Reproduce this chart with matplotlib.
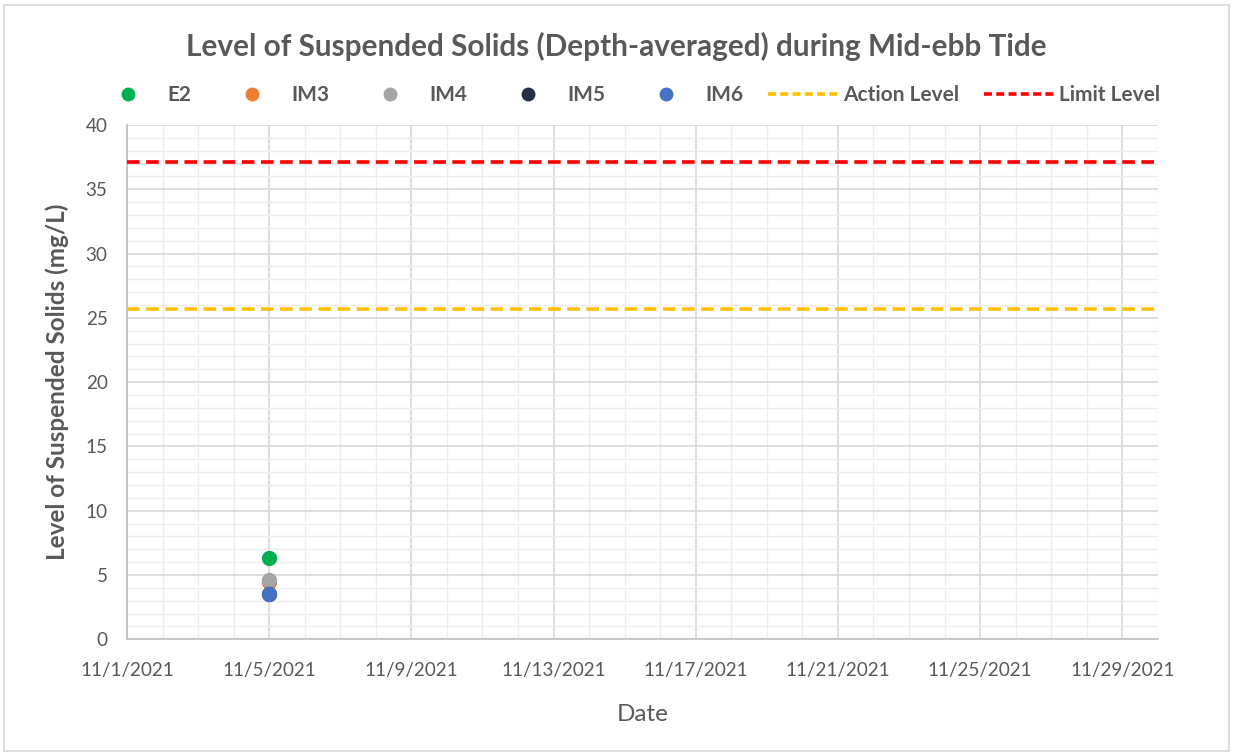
import matplotlib
matplotlib.use("Agg")
import matplotlib.pyplot as plt
import matplotlib.dates as mdates
from matplotlib.lines import Line2D
from matplotlib.patches import Rectangle
import datetime as dt

plt.rcParams['font.family'] = ['Lato', 'DejaVu Sans']

# Data
stations = ["E2", "IM3", "IM4", "IM5", "IM6"]
colors = ["#00B050", "#ED7D31", "#A5A5A5", "#263147", "#4472C4"]
sample_date = dt.date(2021, 11, 5)
values = [6.3, 4.45, 4.6, 3.5, 3.5]
action_level = 25.7
limit_level = 37.1
x_start = dt.date(2021, 11, 1)
x_end = dt.date(2021, 11, 30)
major_days = [1, 5, 9, 13, 17, 21, 25, 29]

fig = plt.figure(figsize=(12.33, 7.53), dpi=100)
ax = fig.add_axes([0.103, 0.151, 0.836, 0.683])

# border around figure
fig.patches.append(Rectangle((0.003, 0.003), 0.994, 0.991, transform=fig.transFigure,
                             fill=False, edgecolor="#D9D9D9", linewidth=1.2))

txt = "#595959"
ax.set_xlim(mdates.date2num(x_start), mdates.date2num(x_end))
ax.set_ylim(0, 40)

ax.xaxis.set_major_locator(mdates.DayLocator(bymonthday=major_days))
ax.xaxis.set_minor_locator(mdates.DayLocator())
ax.xaxis.set_major_formatter(plt.FuncFormatter(
    lambda v, p: (lambda d: f"{d.month}/{d.day}/{d.year}")(mdates.num2date(v))))
ax.set_yticks(range(0, 41, 5))
ax.set_yticks(range(0, 41, 1), minor=True)

ax.grid(which="minor", color="#EDEDED", linewidth=1.0, zorder=0)
ax.grid(which="major", color="#D9D9D9", linewidth=1.2, zorder=0)
ax.set_axisbelow(True)
for s in ["top", "right"]:
    ax.spines[s].set_visible(False)
for s in ["left", "bottom"]:
    ax.spines[s].set_color("#BFBFBF")
    ax.spines[s].set_linewidth(1.2)
ax.tick_params(which="both", length=0)
ax.tick_params(axis="both", labelsize=13.6, colors=txt)
ax.tick_params(axis="y", pad=14)
ax.tick_params(axis="x", pad=16)

ax.axhline(action_level, color="#FFC000", linewidth=2.6, linestyle=(0, (3.5, 1.8)), zorder=3)
ax.axhline(limit_level, color="#FF0000", linewidth=2.6, linestyle=(0, (3.5, 1.8)), zorder=3)

xd = mdates.date2num(sample_date)
for name, c, v in zip(stations, colors, values):
    ax.plot([xd], [v], marker="o", linestyle="none", markersize=10, color=c, zorder=4)

ax.set_xlabel("Date", fontsize=17.5, color=txt, labelpad=18)
ax.set_ylabel("Level of Suspended Solids (mg/L)", fontsize=17.5, color=txt, fontweight="bold", labelpad=12)
fig.text(0.5, 0.938, "Level of Suspended Solids (Depth-averaged) during Mid-ebb Tide",
         ha="center", va="center", fontsize=21.4, fontweight="bold", color=txt)

handles = [Line2D([], [], marker="o", linestyle="none", markersize=9, color=c) for c in colors]
handles += [Line2D([], [], color="#FFC000", linewidth=2.6, linestyle=(0, (2.2, 1.2))),
            Line2D([], [], color="#FF0000", linewidth=2.6, linestyle=(0, (2.2, 1.2)))]
labels = stations + ["Action Level", "Limit Level"]
leg = fig.legend(handles, labels, loc="center", bbox_to_anchor=(0.508, 0.874), ncol=7,
                 frameon=False, fontsize=15, handlelength=3.4, columnspacing=1.2, handletextpad=0.2)
for t in leg.get_texts():
    t.set_color(txt)
    t.set_fontweight("bold")

fig.savefig("out.png", dpi=100)
